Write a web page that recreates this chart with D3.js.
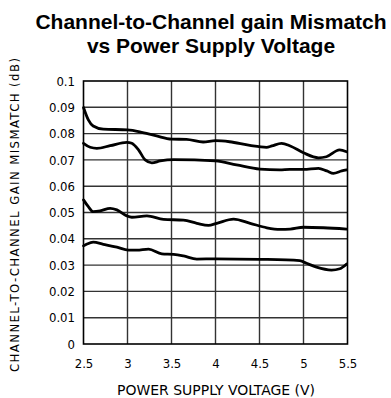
<!DOCTYPE html>
<html>
<head>
<meta charset="utf-8">
<script src="https://cdn.jsdelivr.net/npm/d3@7"></script>
<style>
  html, body { margin: 0; padding: 0; background: #fff; }
  svg { display: block; }
</style>
</head>
<body>
<svg id="chart" width="391" height="398"></svg>
<script>
// Supply voltage (V) sample points and gain mismatch (dB) for four channel pairs
const curveAx = [2.5, 2.555, 2.61, 2.725, 3.0, 3.14, 3.33, 3.5, 3.67, 3.86, 4.0, 4.16, 4.39, 4.58, 4.64, 4.75, 4.85, 5.0, 5.17, 5.26, 5.41, 5.49];
const curveAy = [0.0899, 0.0852, 0.0829, 0.0817, 0.0814, 0.0807, 0.0791, 0.0779, 0.0778, 0.0768, 0.0773, 0.0769, 0.0755, 0.0748, 0.0753, 0.0763, 0.0753, 0.0727, 0.0708, 0.0712, 0.0738, 0.0731];

const curveBx = [2.5, 2.576, 2.652, 2.803, 2.992, 3.049, 3.125, 3.201, 3.277, 3.371, 3.523, 4.0, 4.239, 4.504, 4.731, 4.845, 5.0, 5.17, 5.265, 5.34, 5.435, 5.49];
const curveBy = [0.0763, 0.0748, 0.0744, 0.0754, 0.0767, 0.0763, 0.0738, 0.0700, 0.0689, 0.0696, 0.0701, 0.0696, 0.0681, 0.0665, 0.0662, 0.0664, 0.0664, 0.0668, 0.0658, 0.0649, 0.0658, 0.0662];

const curveCx = [2.5, 2.555, 2.61, 2.69, 2.803, 2.879, 2.992, 3.049, 3.22, 3.409, 3.636, 3.788, 3.92, 4.015, 4.205, 4.394, 4.583, 4.735, 4.848, 5.0, 5.227, 5.49];
const curveCy = [0.0548, 0.0522, 0.0503, 0.0506, 0.0516, 0.0510, 0.0487, 0.0482, 0.0487, 0.0474, 0.0471, 0.0459, 0.0451, 0.0459, 0.0475, 0.0459, 0.0442, 0.0436, 0.0437, 0.0444, 0.0442, 0.0437];

const curveDx = [2.5, 2.54, 2.61, 2.725, 2.879, 3.011, 3.106, 3.239, 3.39, 3.523, 3.636, 3.788, 4.0, 4.504, 4.958, 5.034, 5.148, 5.318, 5.413, 5.49];
const curveDy = [0.0373, 0.0380, 0.0387, 0.0379, 0.0368, 0.0357, 0.0357, 0.0361, 0.0343, 0.0341, 0.0335, 0.0323, 0.0324, 0.0322, 0.0317, 0.0307, 0.0292, 0.0281, 0.0286, 0.0304];

// Axis ticks
const xTicks = [2.5, 3, 3.5, 4, 4.5, 5, 5.5];
const xTickLabels = ["2.5", "3", "3.5", "4", "4.5", "5", "5.5"];
const yTicks = [0, 0.01, 0.02, 0.03, 0.04, 0.05, 0.06, 0.07, 0.08, 0.09, 0.1];
const yTickLabels = ["0", "0.01", "0.02", "0.03", "0.04", "0.05", "0.06", "0.07", "0.08", "0.09", "0.1"];

const titleLines = ["Channel-to-Channel gain Mismatch", "vs Power Supply Voltage"];
const xTitle = "POWER SUPPLY VOLTAGE (V)";
const yTitle = "CHANNEL-TO-CHANNEL GAIN MISMATCH (dB)";

const series = [
  { x: curveAx, y: curveAy },
  { x: curveBx, y: curveBy },
  { x: curveCx, y: curveCy },
  { x: curveDx, y: curveDy }
];

const svg = d3.select("#chart");
const plot = { left: 83.5, right: 347.5, top: 81, bottom: 344 };

const x = d3.scaleLinear().domain([2.5, 5.5]).range([plot.left, plot.right]);
const y = d3.scaleLinear().domain([0, 0.1]).range([plot.bottom, plot.top]);

const axisFont = "'DejaVu Sans Condensed', 'DejaVu Sans', sans-serif";

// Title
svg.selectAll("text.title")
  .data(titleLines)
  .join("text")
  .attr("class", "title")
  .attr("x", 211)
  .attr("y", (d, i) => 28.5 + i * 24.5)
  .attr("text-anchor", "middle")
  .attr("font-family", "'Liberation Sans', Arial, sans-serif")
  .attr("font-weight", "bold")
  .attr("font-size", 21)
  .attr("fill", "#000")
  .text(d => d);

// Grid
const grid = svg.append("g");
grid.selectAll("line.v")
  .data(xTicks.slice(1, -1))
  .join("line")
  .attr("x1", d => x(d)).attr("x2", d => x(d))
  .attr("y1", plot.top).attr("y2", plot.bottom)
  .attr("stroke", "#333").attr("stroke-width", 1.4);
grid.selectAll("line.h")
  .data(yTicks.slice(1, -1))
  .join("line")
  .attr("x1", plot.left).attr("x2", plot.right)
  .attr("y1", d => y(d)).attr("y2", d => y(d))
  .attr("stroke", "#333").attr("stroke-width", 1.4);

// Frame
svg.append("rect")
  .attr("x", plot.left).attr("y", plot.top)
  .attr("width", plot.right - plot.left).attr("height", plot.bottom - plot.top)
  .attr("fill", "none").attr("stroke", "#000").attr("stroke-width", 1.6);

// Axes (labels only; grid and frame drawn above)
const xAxis = d3.axisBottom(x)
  .tickValues(xTicks)
  .tickFormat((d, i) => xTickLabels[i])
  .tickSize(0).tickPadding(15);
svg.append("g")
  .attr("transform", `translate(0,${plot.bottom})`)
  .call(xAxis)
  .call(g => g.select(".domain").remove())
  .selectAll("text")
  .attr("font-family", axisFont)
  .attr("font-size", 13)
  .attr("fill", "#000");

const yAxis = d3.axisLeft(y)
  .tickValues(yTicks)
  .tickFormat((d, i) => yTickLabels[i])
  .tickSize(0).tickPadding(8.5);
svg.append("g")
  .attr("transform", `translate(${plot.left},0)`)
  .call(yAxis)
  .call(g => g.select(".domain").remove())
  .selectAll("text")
  .attr("font-family", axisFont)
  .attr("font-size", 13)
  .attr("fill", "#000");

// Axis titles
svg.append("text")
  .attr("x", 216).attr("y", 395)
  .attr("text-anchor", "middle")
  .attr("font-family", axisFont)
  .attr("font-size", 14)
  .attr("textLength", 198).attr("lengthAdjust", "spacingAndGlyphs")
  .attr("fill", "#000")
  .text(xTitle);

svg.append("text")
  .attr("transform", "translate(19,215) rotate(-90)")
  .attr("text-anchor", "middle")
  .attr("font-family", axisFont)
  .attr("font-size", 13)
  .attr("textLength", 314).attr("lengthAdjust", "spacing")
  .attr("fill", "#000")
  .text(yTitle);

// Curves
const line = d3.line()
  .x(d => x(d[0]))
  .y(d => y(d[1]))
  .curve(d3.curveMonotoneX);

svg.append("g")
  .selectAll("path")
  .data(series)
  .join("path")
  .attr("d", s => line(s.x.map((v, i) => [v, s.y[i]])))
  .attr("fill", "none")
  .attr("stroke", "#000")
  .attr("stroke-width", 2.8)
  .attr("stroke-linejoin", "round")
  .attr("stroke-linecap", "round");
</script>
</body>
</html>
